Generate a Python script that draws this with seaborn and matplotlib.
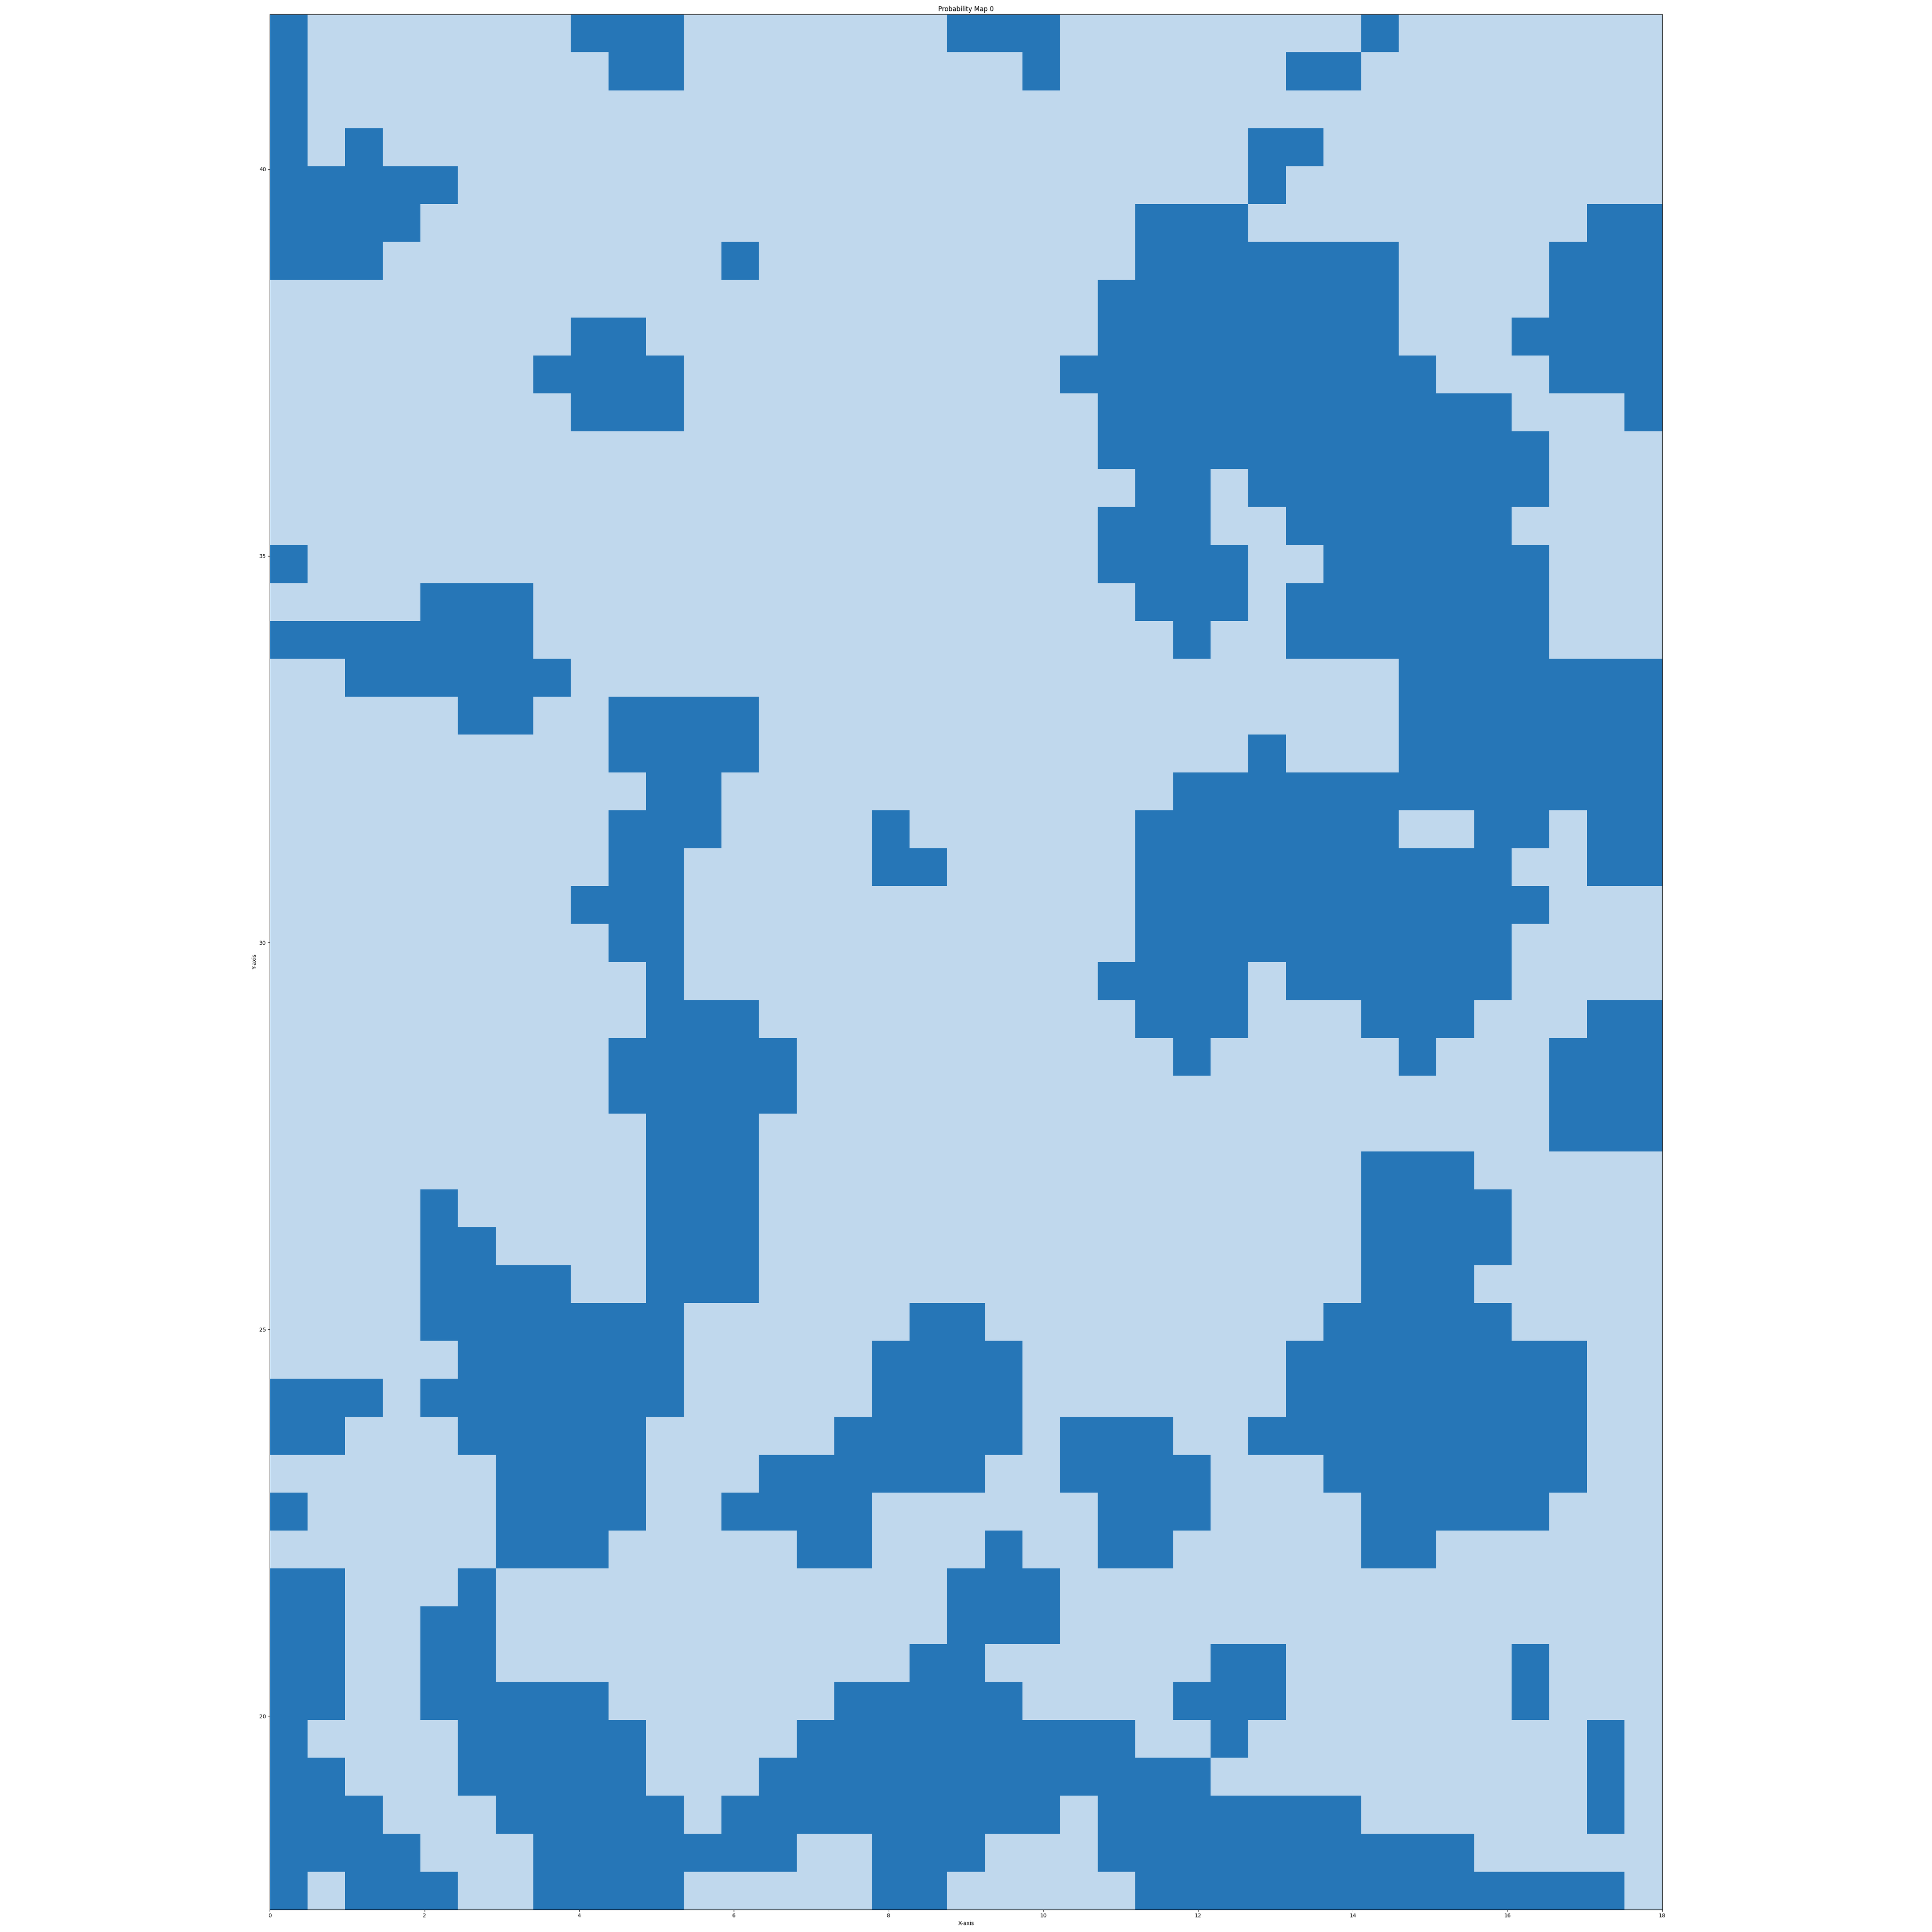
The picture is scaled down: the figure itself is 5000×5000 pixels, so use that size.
import numpy as np
import matplotlib
matplotlib.use('Agg')
import matplotlib.pyplot as plt
from matplotlib.colors import ListedColormap
import seaborn as sns

# grid extent in data units (37 columns x 50 rows)
X_MIN, X_MAX = 0.0, 18.0
Y_MIN, Y_MAX = 17.5, 42.0
N_COLS = 37

# dark cells per row, top row first ("a-b" = run of columns)
ROWS = [
    "0,8-10,18-20,29",
    "0,9-10,20,27-28",
    "0",
    "0,2,26-27",
    "0-4,26",
    "0-3,23-25,35-36",
    "0-2,12,23-29,34-36",
    "22-29,34-36",
    "8-9,22-29,33-36",
    "7-10,21-30,34-36",
    "8-10,22-32,36",
    "22-33",
    "23-24,26-33",
    "22-24,27-32",
    "0,22-25,28-33",
    "4-6,23-25,27-33",
    "0-6,24,27-33",
    "2-7,30-36",
    "5-6,9-12,30-36",
    "9-12,26,30-36",
    "10-11,24-36",
    "9-11,16,23-29,32-33,35-36",
    "9-10,16-17,23-32,35-36",
    "8-10,23-33",
    "9-10,23-32",
    "10,22-25,27-32",
    "10-12,23-25,29-31,35-36",
    "9-13,24,30,34-36",
    "9-13,34-36",
    "10-12,34-36",
    "10-12,29-31",
    "4,10-12,29-32",
    "4-5,10-12,29-32",
    "4-7,10-12,29-31",
    "4-10,17-18,28-32",
    "5-10,16-19,27-34",
    "0-2,4-10,16-19,27-34",
    "0-1,5-9,15-19,21-23,26-34",
    "6-9,13-18,21-24,28-34",
    "0,6-9,12-15,22-24,29-33",
    "6-8,14-15,19,22-23,29-30",
    "0-1,5,18-20",
    "0-1,4-5,18-20",
    "0-1,4-5,17-18,25-26,33",
    "0-1,4-8,15-19,24-26,33",
    "0,5-9,14-22,25,35",
    "0-1,5-9,13-24,35",
    "0-2,6-10,12-20,22-28,35",
    "0-3,7-13,16-18,22-31",
    "0,2-4,7-10,16-17,23-35",
]

X_TICKS = [0, 2, 4, 6, 8, 10, 12, 14, 16, 18]
Y_TICKS = [20, 25, 30, 35, 40]

COLOR_LOW = "#c0d8ed"
COLOR_HIGH = "#2676b7"


def parse_row(spec):
    row = np.zeros(N_COLS)
    for part in spec.split(","):
        if "-" in part:
            a, b = part.split("-")
            row[int(a):int(b) + 1] = 1
        else:
            row[int(part)] = 1
    return row


grid = np.array([parse_row(r) for r in ROWS])
n_rows = grid.shape[0]

fig, ax = plt.subplots(figsize=(50, 50), dpi=100)
sns.heatmap(grid, cmap=ListedColormap([COLOR_LOW, COLOR_HIGH]), vmin=0, vmax=1,
            cbar=False, xticklabels=False, yticklabels=False, ax=ax)

# cells are 18/37 wide and 24.5/50 tall in data units
cell_w = (X_MAX - X_MIN) / N_COLS
cell_h = (Y_MAX - Y_MIN) / n_rows
ax.set_aspect(cell_h / cell_w)

# map data-unit ticks onto heatmap cell coordinates
ax.set_xticks([(v - X_MIN) / cell_w for v in X_TICKS])
ax.set_xticklabels([str(v) for v in X_TICKS], rotation=0)
ax.set_yticks([(Y_MAX - v) / cell_h for v in Y_TICKS])
ax.set_yticklabels([str(v) for v in Y_TICKS], rotation=0)
ax.tick_params(length=3.5, width=0.8, direction='out', bottom=True, left=True, labelsize=10)

for s in ax.spines.values():
    s.set_visible(True)
    s.set_color('black')
    s.set_linewidth(0.8)

ax.set_title('Probability Map 0', fontsize=12)
ax.set_xlabel('X-axis', fontsize=10)
ax.set_ylabel('Y-axis', fontsize=10)

plt.tight_layout()
plt.savefig('out.png', dpi=100)
plt.close()
